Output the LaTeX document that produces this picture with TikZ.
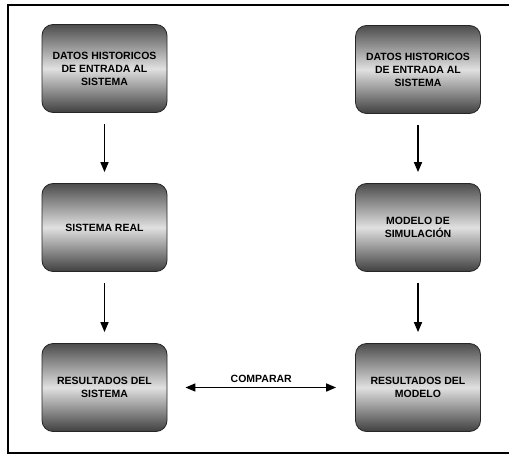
\documentclass[tikz,border=0pt]{standalone}
\usepackage{fontspec}
\setmainfont{Liberation Sans}
\usetikzlibrary{arrows.meta}

\begin{document}
\begin{tikzpicture}[x=1pt,y=-1pt,
    caja/.style={draw=black!85,line width=0.8pt,rounded corners=11pt,
      minimum width=125pt,minimum height=88pt,align=center,
      top color=black!70,bottom color=black!75,middle color=black!12,
      font=\fontsize{10.5}{13}\selectfont\bfseries},
    flecha/.style={-{Triangle[length=10pt,width=8pt]},line width=1.6pt,
      shorten <=11pt,shorten >=11pt}]
  \useasboundingbox (0,0) rectangle (510,457);
  \draw[line width=2pt] (509,5) -- (8,5) -- (8,453) -- (509,453);
  \node[caja] (dhs) at (104.5,68.5) {DATOS HISTORICOS\\DE ENTRADA AL\\SISTEMA};
  \node[caja] (dhm) at (418,69.5) {DATOS HISTORICOS\\DE ENTRADA AL\\SISTEMA};
  \node[caja] (real) at (104.5,227.5) {SISTEMA REAL};
  \node[caja] (modelo) at (418,227.5) {MODELO DE\\SIMULACI\'ON};
  \node[caja] (ressis) at (104.5,387.5) {RESULTADOS DEL\\SISTEMA};
  \node[caja] (resmod) at (418,387.5) {RESULTADOS DEL\\MODELO};
  \draw[flecha] (dhs) -- (real);
  \draw[flecha] (real) -- (ressis);
  \draw[flecha] (dhm) -- (modelo);
  \draw[flecha] (modelo) -- (resmod);
  \draw[flecha,{Triangle[length=10pt,width=8pt]}-{Triangle[length=10pt,width=8pt]},
    shorten <=18pt,shorten >=19pt] (ressis.east) -- node[above=1pt,
    font=\fontsize{10.5}{12}\selectfont\bfseries] (comp) {COMPARAR} (resmod.west);
\end{tikzpicture}
\end{document}
